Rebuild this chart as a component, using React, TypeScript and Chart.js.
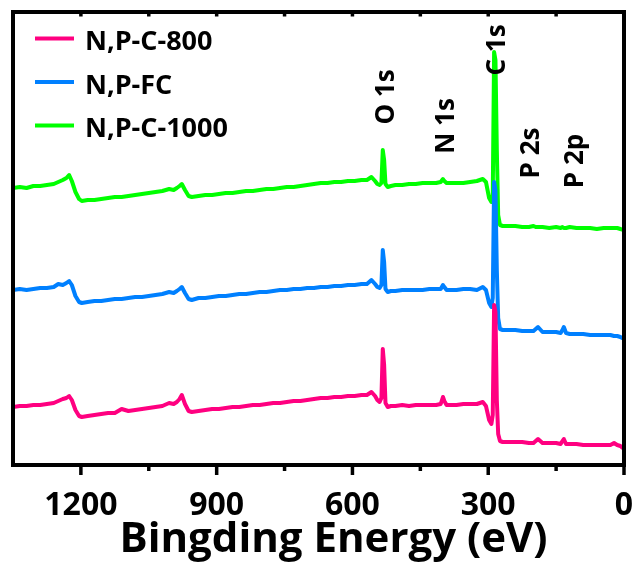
import React, { useEffect, useRef } from "react";
import { Chart, registerables } from "chart.js";

Chart.register(...registerables);

const seriesNames = ["N,P-C-800", "N,P-FC", "N,P-C-1000"];
const seriesColors = ["#FF0080", "#0080FF", "#00FF00"];

// Binding energy (eV)
const energy = [
  1350, 1335, 1320, 1305, 1290, 1275, 1260, 1250, 1240, 1232,
  1226, 1220, 1212, 1204, 1198, 1185, 1170, 1155, 1140, 1125,
  1110, 1095, 1080, 1065, 1050, 1035, 1020, 1005, 995, 988,
  982, 977, 970, 962, 955, 940, 925, 910, 895, 880,
  865, 850, 835, 820, 805, 790, 775, 760, 745, 730,
  715, 700, 685, 670, 655, 640, 625, 610, 595, 580,
  568, 558, 550, 545, 540, 536, 533, 530, 527, 522,
  515, 505, 490, 475, 460, 445, 430, 415, 405, 400,
  397, 392, 385, 370, 355, 340, 325, 312, 305, 298,
  293, 290, 287, 284, 281, 278, 274, 268, 255, 240,
  225, 210, 200, 195, 190, 180, 165, 150, 140, 136,
  133, 128, 120, 105, 90, 75, 60, 45, 30, 22,
  15, 8, 0,
];

// Intensities (a.u., offset stacked)
const npC800 = [
  58, 59, 59, 60, 60, 61, 62, 64, 66, 67,
  69, 65, 55, 49, 48, 49, 50, 51, 52, 52,
  56, 54, 55, 56, 57, 58, 59, 62, 61, 63,
  66, 70, 61, 54, 53, 54, 55, 56, 56, 57,
  58, 58, 59, 60, 60, 61, 62, 62, 63, 64,
  64, 65, 66, 67, 67, 68, 68, 69, 69, 70,
  70, 73, 69, 65, 63, 67, 116, 100, 62, 58,
  59, 59, 60, 59, 60, 60, 60, 60, 61, 68,
  64, 60, 60, 60, 61, 61, 61, 63, 59, 45,
  41, 50, 160, 153, 65, 31, 24, 23, 23, 23,
  23, 22, 22, 24, 26, 22, 22, 22, 21, 24,
  26, 21, 21, 21, 20, 20, 20, 20, 20, 22,
  20, 19, 16,
];

const npFC = [
  175, 176, 175, 176, 177, 177, 178, 181, 180, 182,
  184, 180, 169, 163, 162, 163, 164, 164, 165, 166,
  166, 167, 168, 168, 169, 170, 171, 173, 172, 174,
  176, 178, 172, 166, 165, 167, 167, 168, 169, 169,
  170, 171, 171, 172, 173, 173, 174, 175, 175, 176,
  176, 177, 177, 178, 178, 179, 179, 180, 180, 181,
  181, 185, 181, 178, 177, 180, 215, 203, 176, 173,
  174, 174, 175, 175, 175, 175, 176, 176, 176, 180,
  178, 175, 175, 175, 176, 176, 175, 178, 175, 162,
  158, 167, 283, 275, 195, 147, 136, 135, 135, 135,
  134, 134, 134, 136, 138, 133, 133, 133, 132, 135,
  138, 132, 131, 131, 131, 130, 130, 130, 130, 129,
  129, 128, 126,
];

const npC1000 = [
  277, 278, 277, 279, 279, 280, 281, 283, 285, 287,
  290, 284, 273, 266, 264, 265, 265, 266, 267, 268,
  268, 269, 270, 271, 272, 273, 274, 276, 275, 277,
  279, 281, 275, 269, 268, 269, 270, 270, 271, 272,
  272, 273, 274, 274, 275, 276, 276, 277, 278, 278,
  279, 280, 281, 282, 282, 283, 283, 284, 284, 285,
  285, 288, 284, 281, 280, 282, 315, 305, 281, 278,
  279, 280, 280, 281, 281, 282, 282, 282, 283, 286,
  284, 282, 282, 282, 282, 283, 284, 286, 283, 267,
  263, 270, 413, 405, 315, 250, 240, 239, 239, 239,
  238, 238, 239, 238, 238, 238, 237, 238, 237, 238,
  237, 237, 238, 237, 237, 237, 236, 237, 237, 237,
  237, 236, 235,
];

const seriesValues = [npC800, npFC, npC1000];

const xMin = 0;
const xMax = 1350;
const xStep = 300;
const minorTickValues = [1050, 750, 450, 150];
const yMin = 0;
const yMax = 453;
const xTitle = "Bingding Energy (eV)";

const peakLabels = ["O 1s", "N 1s", "C 1s", "P 2s", "P 2p"];
const peakLabelEnergy = [525, 393, 280, 205, 106];
const peakLabelLevel = [368, 339, 415, 312, 304];

const FONT = '"Open Sans", "DejaVu Sans", sans-serif';

const decorPlugin = {
  id: "decor",
  afterDraw(chart: any) {
    const { ctx, chartArea: a, scales } = chart;
    const x = scales.x;
    const y = scales.y;
    ctx.save();
    const seg = (x1: number, y1: number, x2: number, y2: number) => {
      ctx.beginPath();
      ctx.moveTo(x1, y1);
      ctx.lineTo(x2, y2);
      ctx.stroke();
    };
    ctx.strokeStyle = "#000";
    ctx.lineWidth = 3.5;
    for (const t of x.ticks) {
      const px = x.getPixelForValue(t.value);
      seg(px, a.bottom, px, a.bottom + 10);
      seg(px, a.top, px, a.top + 4.5);
    }
    for (const v of minorTickValues) {
      const px = x.getPixelForValue(v);
      seg(px, a.bottom, px, a.bottom + 6);
      seg(px, a.top, px, a.top + 4.5);
    }
    ctx.lineWidth = 4;
    ctx.strokeRect(a.left, a.top, a.right - a.left, a.bottom - a.top);

    // axis title
    ctx.fillStyle = "#000";
    ctx.font = `bold 42px ${FONT}`;
    ctx.textAlign = "center";
    ctx.textBaseline = "alphabetic";
    ctx.fillText(xTitle, (a.left + a.right) / 2 + 15, chart.height - 15);

    // peak annotations
    ctx.font = `bold 26px ${FONT}`;
    ctx.textAlign = "center";
    ctx.textBaseline = "middle";
    peakLabels.forEach((t, i) => {
      const px = x.getPixelForValue(peakLabelEnergy[i]);
      const py = y.getPixelForValue(peakLabelLevel[i]);
      ctx.save();
      ctx.translate(px, py);
      ctx.rotate(-Math.PI / 2);
      ctx.fillText(t, 0, 0);
      ctx.restore();
    });

    // legend
    ctx.textAlign = "left";
    ctx.textBaseline = "alphabetic";
    ctx.font = `bold 27px ${FONT}`;
    chart.data.datasets.forEach((ds: any, i: number) => {
      const ly = a.top + 26.5 + i * 43.5;
      ctx.strokeStyle = ds.borderColor;
      ctx.lineWidth = 4;
      seg(a.left + 22, ly, a.left + 61, ly);
      ctx.fillStyle = "#000";
      ctx.fillText(ds.label, a.left + 72, ly + 11.5);
    });
    ctx.restore();
  },
};

export default function App() {
  const canvasRef = useRef<HTMLCanvasElement | null>(null);

  useEffect(() => {
    let chart: Chart | null = null;
    let cancelled = false;
    const create = () => {
      if (cancelled || !canvasRef.current) return;
      chart = new Chart(canvasRef.current, {
        type: "line",
        data: {
          datasets: seriesNames.map((name, i) => ({
            label: name,
            data: energy.map((e, j) => ({ x: e, y: seriesValues[i][j] })),
            borderColor: seriesColors[i],
            backgroundColor: seriesColors[i],
            borderWidth: 4,
            pointRadius: 0,
            tension: 0,
            fill: false,
            borderJoinStyle: "round",
            borderCapStyle: "round",
          })),
        },
        options: {
          animation: false,
          responsive: false,
          maintainAspectRatio: false,
          layout: { padding: { left: 13, right: 13, top: 12, bottom: 0 } },
          plugins: {
            legend: { display: false },
            tooltip: { enabled: false },
          },
          scales: {
            x: {
              type: "linear",
              reverse: true,
              min: xMin,
              max: xMax,
              grid: { display: false },
              border: { display: false },
              ticks: {
                stepSize: xStep,
                includeBounds: false,
                autoSkip: false,
                maxRotation: 0,
                padding: 14,
                color: "#000",
                font: { family: FONT, weight: "bold", size: 32 },
                callback: (v: any) => String(v),
              },
              title: { display: false },
              afterFit: (s: any) => {
                s.height = 102;
                s.paddingLeft = 0;
                s.paddingRight = 0;
              },
            },
            y: {
              display: false,
              min: yMin,
              max: yMax,
            },
          },
        },
        plugins: [decorPlugin],
      } as any);
    };
    const fonts = (document as any).fonts;
    if (fonts && fonts.load) {
      Promise.all([fonts.load(`bold 32px "Open Sans"`)]).then(create, create);
    } else {
      create();
    }
    return () => {
      cancelled = true;
      if (chart) chart.destroy();
    };
  }, []);

  return (
    <div style={{ position: "absolute", left: 0, top: 0, width: 637, height: 567, background: "#fff" }}>
      <canvas ref={canvasRef} width={637} height={567} style={{ display: "block" }} />
    </div>
  );
}
